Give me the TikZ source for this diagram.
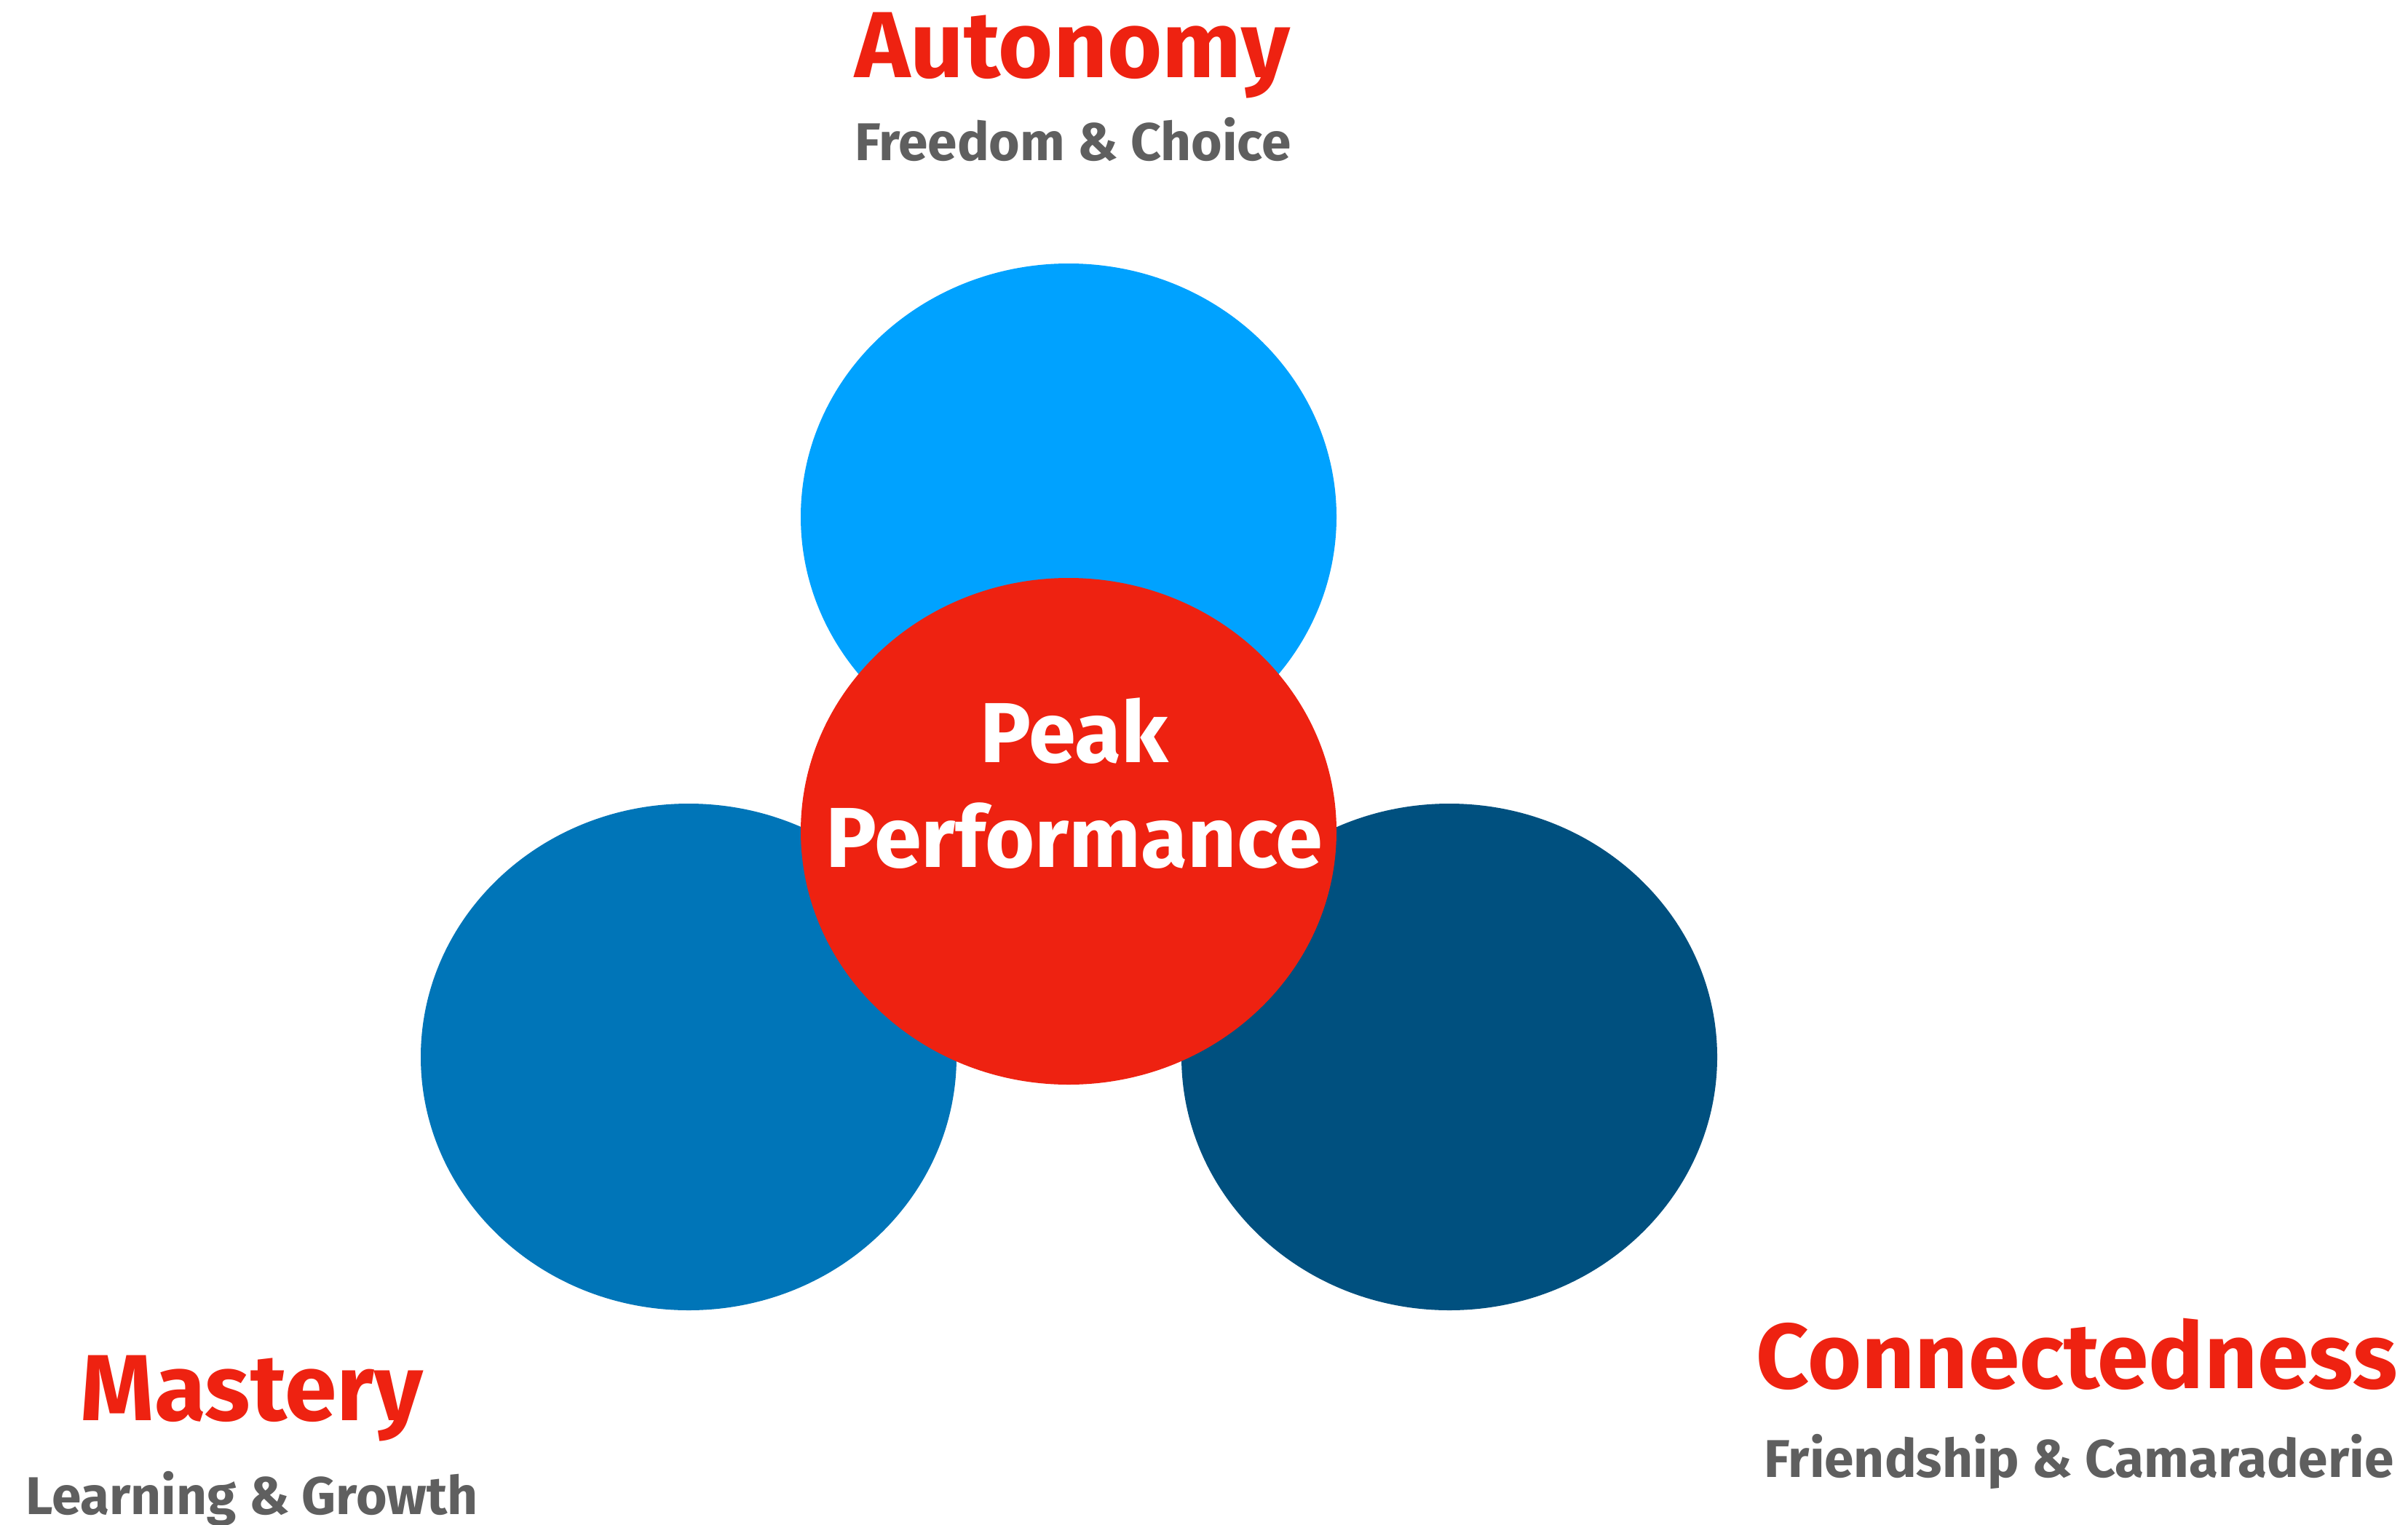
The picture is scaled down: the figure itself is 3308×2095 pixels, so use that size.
\documentclass[tikz,border=0pt]{standalone}
\usepackage{fontspec}
\setmainfont{Fira Sans}
\usetikzlibrary{shapes.geometric}

\definecolor{skyblue}{HTML}{00A2FF}
\definecolor{midblue}{HTML}{0075B8}
\definecolor{deepblue}{HTML}{00507F}
\definecolor{peakred}{HTML}{EE2211}
\definecolor{subgray}{HTML}{5F5F5F}

\tikzset{
  bubble/.style={ellipse, minimum width=736pt, minimum height=696pt, inner sep=0pt},
  heading/.style={anchor=base, text=peakred, inner sep=0pt,
    font=\fontsize{129}{140}\selectfont\bfseries},
  caption/.style={anchor=base, text=subgray, inner sep=0pt,
    font=\fontsize{73}{80}\selectfont\bfseries},
  centre text/.style={anchor=base, text=white, inner sep=0pt, align=center,
    font=\fontsize{117}{144}\selectfont\bfseries},
}

\begin{document}
\begin{tikzpicture}[x=1pt, y=-1pt]
  \useasboundingbox (0,0) rectangle (3308,2095);

  % the three pillars
  \node[bubble, fill=skyblue]  (autonomy)  at (1468,  710) {};
  \node[bubble, fill=midblue]  (mastery)   at (946,  1452) {};
  \node[bubble, fill=deepblue] (connected) at (1991, 1452) {};
  % the core, drawn last so it sits on top
  \node[bubble, fill=peakred]  (peak)      at (1468, 1142) {};

  % base anchor of a two-line node sits on the last line
  \node[centre text] (peaktext) at (1476, 1191.7) {Peak\\Performance};

  % headings and their captions
  \node[heading] (autonomyhead) at (1473, 106.7) {Autonomy};
  \node[caption] (autonomycap)  at (1474, 221)   {Freedom \& Choice};

  \node[heading] (masteryhead)  at (346, 1951.7) {Mastery};
  \node[caption] (masterycap)   at (346, 2080)   {Learning \& Growth};

  \node[heading, font=\fontsize{127}{140}\selectfont\bfseries]
                 (connhead)     at (2853, 1907.3) {Connectedness};
  \node[caption] (conncap)      at (2856, 2029)   {Friendship \& Camaraderie};
\end{tikzpicture}
\end{document}
